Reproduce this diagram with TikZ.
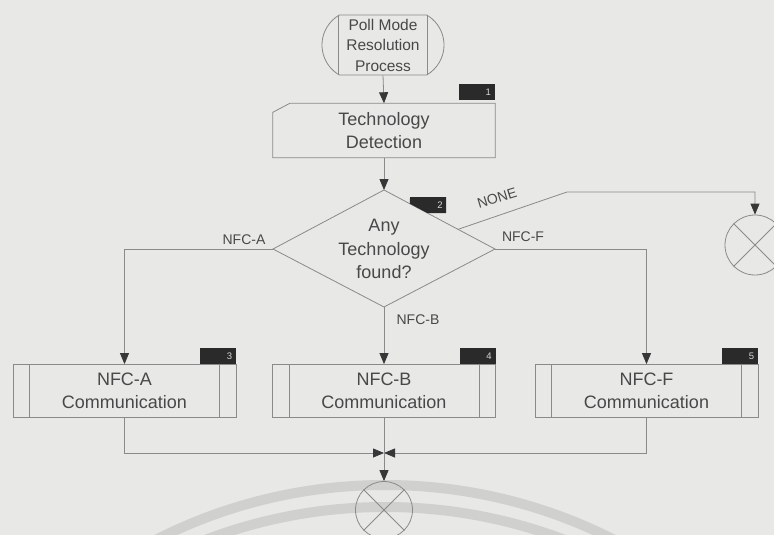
\documentclass[tikz,border=0pt]{standalone}
\usepackage{fontspec}
\setmainfont{Liberation Sans}
\usetikzlibrary{arrows.meta,shapes.misc,calc}

\definecolor{paper}{RGB}{232,232,230}
\definecolor{wm}{RGB}{208,208,206}
\definecolor{edge}{RGB}{138,138,138}
\definecolor{ink}{RGB}{72,72,72}
\definecolor{tipc}{RGB}{55,55,55}
\definecolor{tag}{RGB}{42,42,42}
\definecolor{tagtxt}{RGB}{215,215,215}

\tikzset{
  >={Triangle[length=11pt,width=9pt,color=tipc]},
  conn/.style={draw=edge, line width=0.8pt},
  boxline/.style={draw=edge, line width=0.8pt},
  txt/.style={font=\fontsize{18}{23.5}\selectfont, text=ink, align=center},
  lbl/.style={font=\fontsize{14}{16}\selectfont, text=ink, inner sep=1pt},
  termbox/.style={rounded rectangle, rounded rectangle arc length=120,
    boxline, minimum width=122pt, minimum height=60pt, inner sep=0pt,
    font=\fontsize{15.5}{20.5}\selectfont, text=ink, align=center},
  procbox/.style={boxline, minimum width=223pt, minimum height=53pt, txt},
  badge/.style={fill=tag, minimum width=36pt, minimum height=16pt, inner sep=0pt,
    anchor=south east, text width=28pt, align=right, text=tagtxt,
    font=\fontsize{9.5}{9.5}\selectfont},
  endc/.style={circle, boxline, inner sep=0pt},
}

\begin{document}
\begin{tikzpicture}[x=1pt,y=-1pt]
  \useasboundingbox (0,0) rectangle (774,535);
  \fill[paper] (0,0) rectangle (774,535);

  % faint arcs in the lower part of the sheet
  \begin{scope}
    \clip (0,0) rectangle (774,535);
    \draw[wm, line width=10pt] (385,990) circle (505pt);
    \draw[wm, line width=10pt] (385,1012) circle (505pt);
  \end{scope}

  % start terminator
  \node[termbox] (start) at (383,45) {Poll Mode\\Resolution\\Process};
  \draw[boxline] ($(start.center)+(-45,-30)$) -- ($(start.center)+(-45,30)$);
  \draw[boxline] ($(start.center)+(44,-30)$) -- ($(start.center)+(44,30)$);

  % step 1: technology detection (card with cut corner)
  \node[txt, minimum width=222pt, minimum height=54pt, inner sep=0pt] (tech) at (384,130.5) {Technology\\Detection};
  \draw[boxline] (tech.south west) -- ([yshift=-9pt]tech.north west)
    -- ([xshift=17pt]tech.north west) -- (tech.north east)
    -- (tech.south east) -- cycle;
  \node[badge] (b1) at ([yshift=3pt]tech.north east) {1};

  % step 2: decision
  \coordinate (dT) at (384,190);
  \coordinate (dR) at (495,249);
  \coordinate (dB) at (384,307);
  \coordinate (dL) at (273,249);
  \draw[boxline] (dT) -- (dR) -- (dB) -- (dL) -- cycle;
  \node[txt] (dec) at (384,249) {Any\\Technology\\found?};
  \fill[tag] (410,197) -- (446,197) -- (446,213)
    -- ($(dT)!0.390!(dR)$) -- ($(dT)!0.234!(dR)$) -- cycle;
  \node[text=tagtxt, font=\fontsize{9.5}{9.5}\selectfont, inner sep=0pt] (b2) at (440,205) {2};

  % steps 3-5: communication
  \node[procbox] (pa) at (124.5,391) {NFC-A\\Communication};
  \node[procbox] (pb) at (384,391) {NFC-B\\Communication};
  \node[procbox] (pf) at (646.5,391) {NFC-F\\Communication};
  \foreach \n in {pa,pb,pf}{
    \draw[boxline] ([xshift=17pt]\n.north west) -- ([xshift=17pt]\n.south west);
    \draw[boxline] ([xshift=-17pt]\n.north east) -- ([xshift=-17pt]\n.south east);
  }
  \node[badge] (b3) at (pa.north east) {3};
  \node[badge] (b4) at (pb.north east) {4};
  \node[badge] (b5) at (pf.north east) {5};

  % end points
  \node[endc, minimum size=60pt] (endR) at (755,245) {};
  \draw[boxline] (endR.45) -- (endR.225) (endR.135) -- (endR.315);
  \node[endc, minimum size=57pt] (endB) at (384,510) {};
  \draw[boxline] (endB.45) -- (endB.225) (endB.135) -- (endB.315);

  % connectors
  \draw[conn,->] (start.south) -- (tech.north);
  \draw[conn,->] (tech.south) -- (dT);
  \draw[conn,->] (dL) -| (pa.north);
  \draw[conn,->] (dB) -- (pb.north);
  \draw[conn,->] (dR) -| (pf.north);
  \coordinate (nbend) at (567,192);
  \draw[conn,->] ($(dT)!0.667!(dR)$) -- (nbend) -| (endR.north);

  \coordinate (join) at (384,453);
  \draw[conn,->] (pa.south) |- (join);
  \draw[conn,->] (pf.south) |- (join);
  \draw[conn] (pb.south) -- (join);
  \draw[conn,->] (join) -- (endB.north);

  % branch labels
  \node[lbl] (lA) at (244,240) {NFC-A};
  \node[lbl] (lF) at (523,237) {NFC-F};
  \node[lbl] (lB) at (418,320) {NFC-B};
  \node[lbl, rotate=17] (lN) at (497,198) {NONE};
\end{tikzpicture}
\end{document}
